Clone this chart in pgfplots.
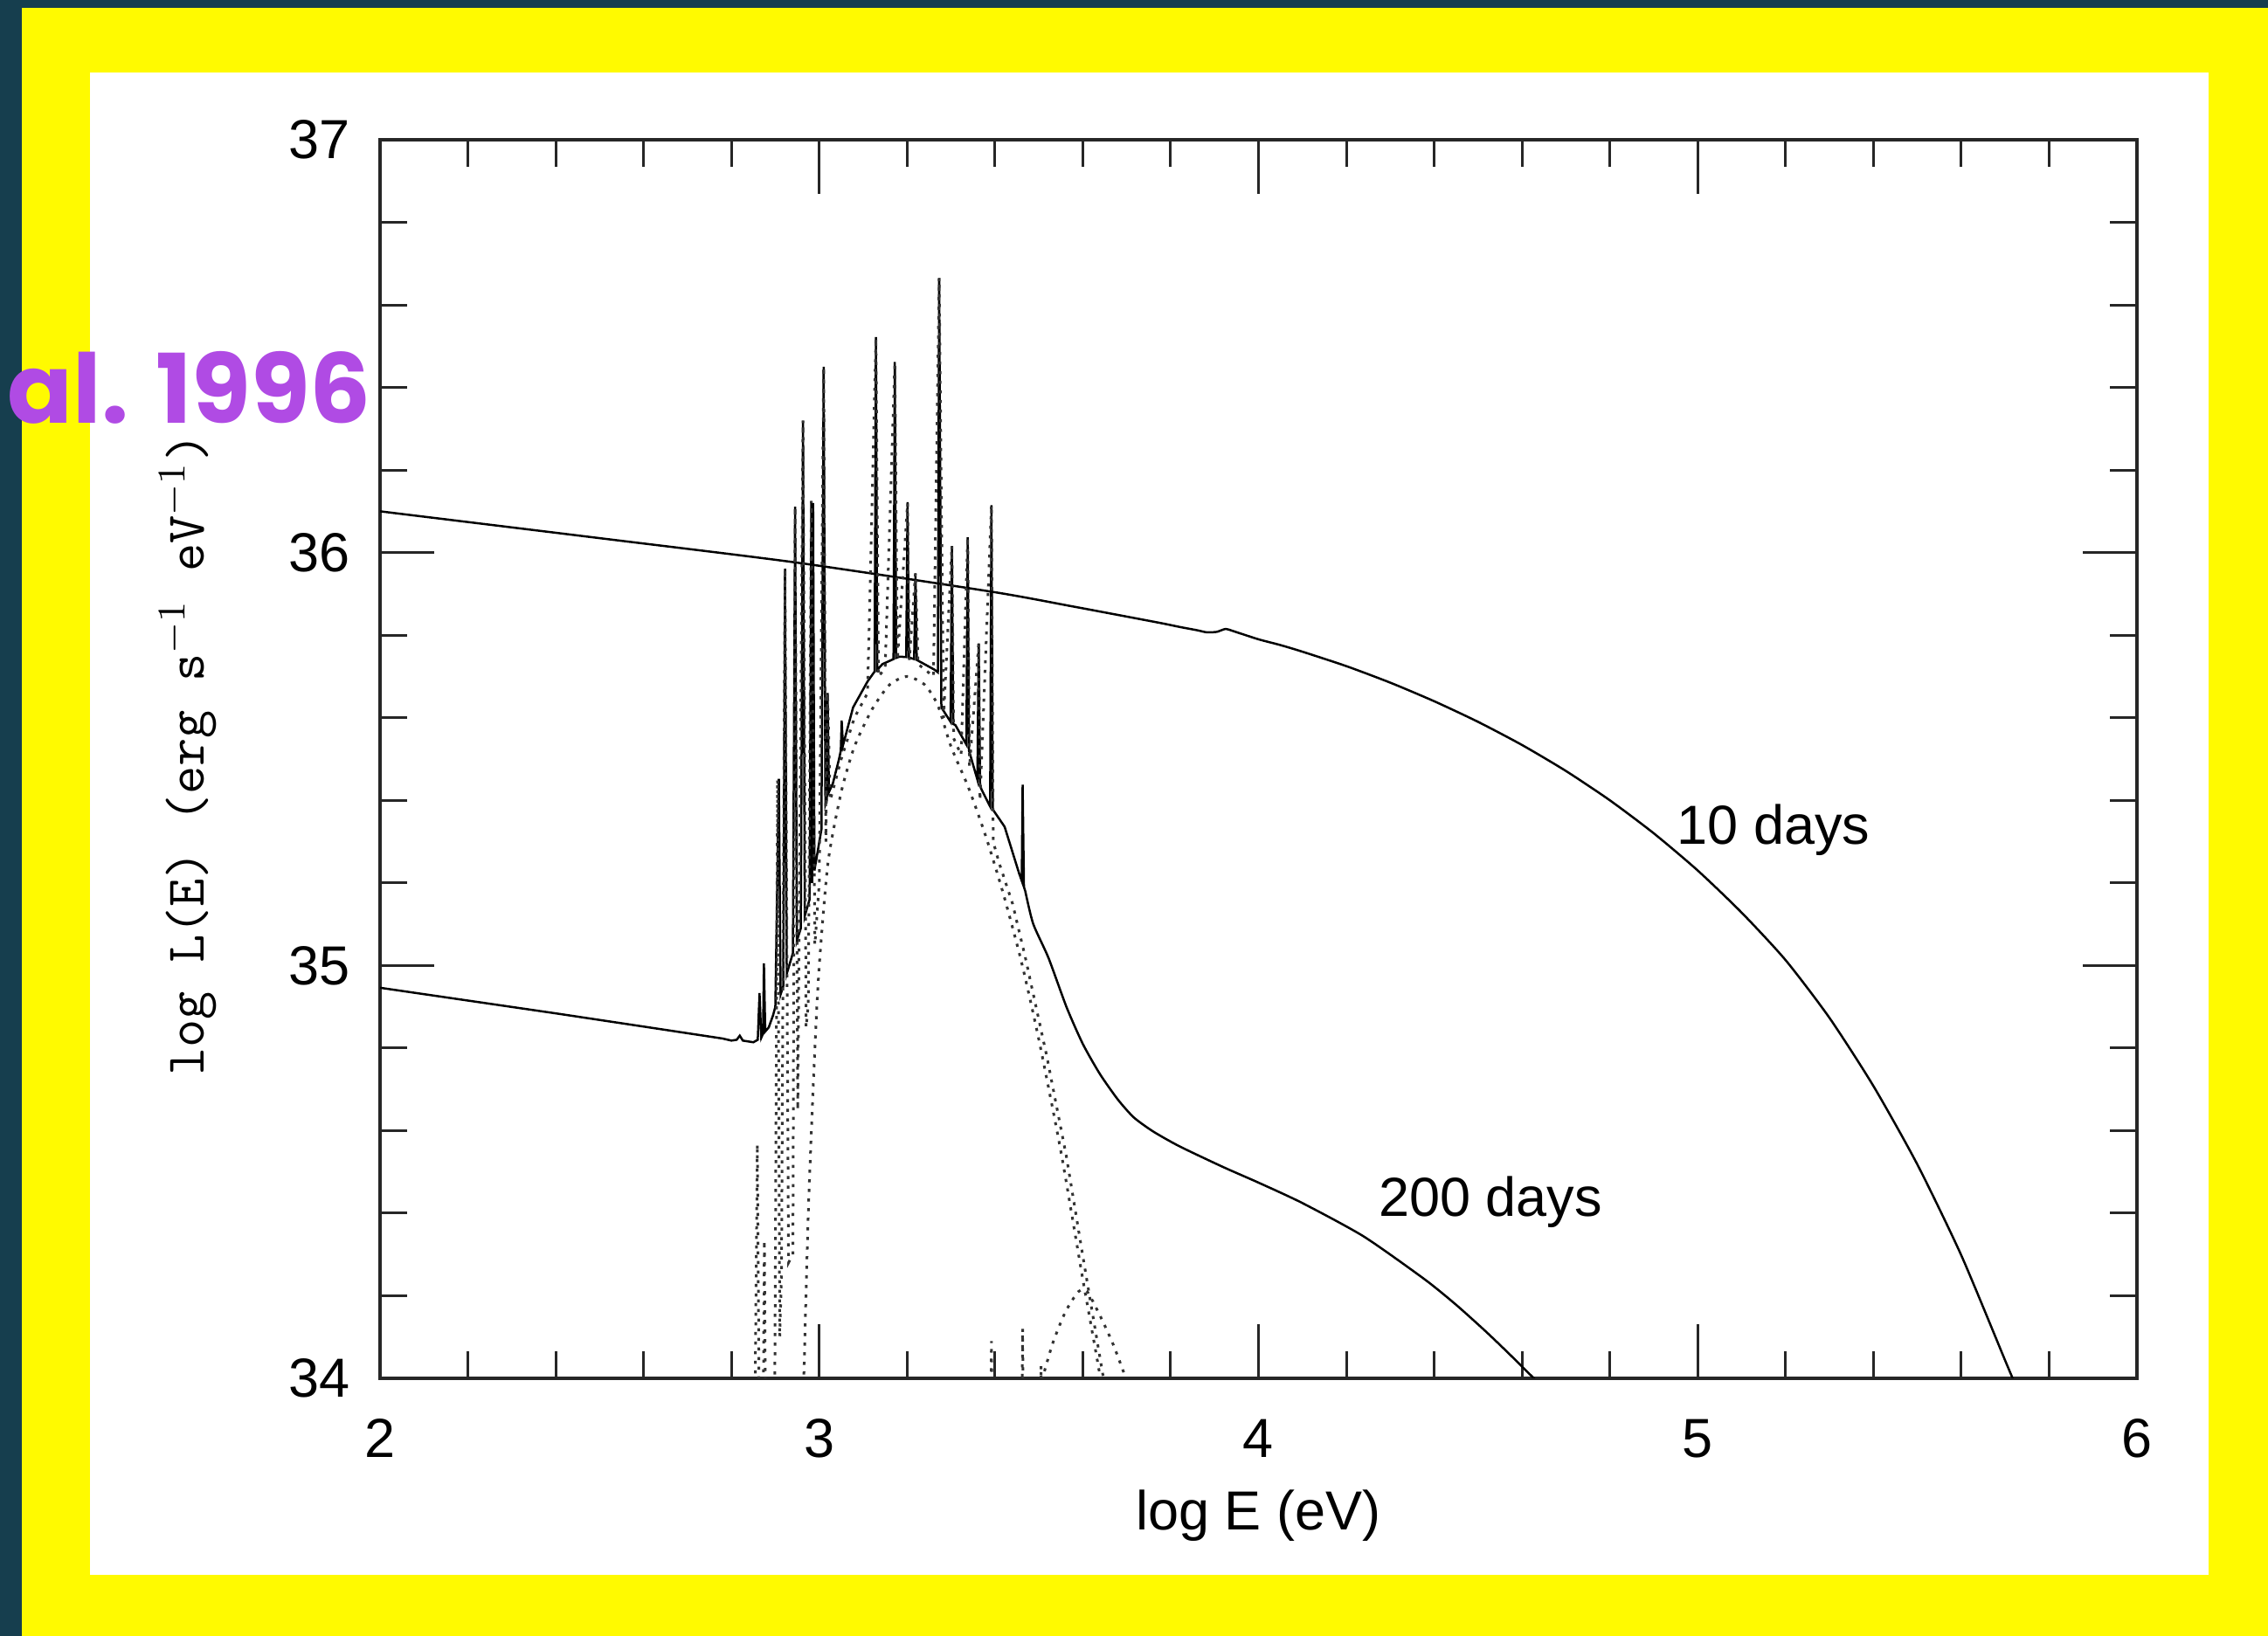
\documentclass[border=0pt]{standalone}
\usepackage{pgfplots}
\pgfplotsset{compat=1.18}
\usepackage{fontspec}
\setmainfont{Liberation Sans}
\newfontfamily\popfont{Poppins}
\definecolor{bgdark}{RGB}{22,62,78}
\definecolor{frameyellow}{RGB}{255,250,0}
\definecolor{labelpurple}{RGB}{176,75,228}
\begin{document}
\begin{tikzpicture}
\fill[bgdark] (0,0) rectangle (519.2pt,374.6pt);
\fill[frameyellow] (5pt,0) rectangle (519.2pt,372.8pt);
\fill[white] (20.6pt,14pt) rectangle (505.6pt,358pt);
\begin{axis}[
  at={(87pt,59pt)}, anchor=south west,
  width=402.2pt, height=283.6pt, scale only axis,
  xmin=2,xmax=6,ymin=34,ymax=37,
  xtick={2,3,4,5,6}, ytick={34,35,36,37},
  minor x tick num=4, minor y tick num=4,
  major tick length=12.4pt, minor tick length=6.2pt,
  tick style={black!85,line width=0.6pt},
  axis line style={line width=0.7pt, black!85},
  tick label style={font=\fontsize{12.6}{15}\selectfont},
  /pgf/number format/assume math mode=true,
  xticklabel style={anchor=base, inner sep=0pt, yshift=-18.2pt},
  yticklabel style={anchor=east, inner sep=0pt, xshift=-6.6pt},
  xlabel={log E (eV)},
  ylabel={\ttfamily log L(E) (erg s$^{-1}$ eV$^{-1}$)},
  every axis x label/.style={at={(axis description cs:0.5,-0.1227)},anchor=base,font=\fontsize{12.6}{15}\selectfont},
  every axis y label/.style={at={(axis description cs:-0.1004,0.5035)},anchor=base,rotate=90,font=\fontsize{12.5}{15}\selectfont},
]
% 10 days
\addplot[black, line width=0.5pt, smooth, tension=0.4] coordinates {
(2.000,36.100) (2.500,36.035) (2.947,35.976) (3.394,35.905) (3.575,35.870)
(3.700,35.845) (3.784,35.828) (3.820,35.820) (3.860,35.812) (3.882,35.807)
(3.905,35.808) (3.925,35.815) (3.945,35.809) (4.000,35.790) (4.050,35.776)
(4.100,35.760) (4.200,35.725) (4.300,35.685) (4.400,35.640) (4.500,35.590)
(4.600,35.534) (4.700,35.471) (4.800,35.400) (4.900,35.320) (5.000,35.230)
(5.100,35.128) (5.200,35.013) (5.300,34.873) (5.400,34.708) (5.500,34.518)
(5.600,34.298) (5.700,34.043) (5.717,34.000) (5.725,33.980)
};
% 200 days: low-energy continuum and lines
\addplot[black, line width=0.5pt] coordinates {
(2.000,34.946) (2.200,34.915) (2.400,34.884) (2.600,34.852) (2.780,34.823)
(2.800,34.818) (2.812,34.820) (2.819,34.830) (2.826,34.818) (2.850,34.814)
(2.860,34.820) (2.864,34.933) (2.868,34.825) (2.872,34.835) (2.874,35.005)
(2.877,34.840) (2.885,34.850) (2.895,34.880) (2.900,34.900) (2.908,35.452)
(2.912,34.930) (2.918,34.950) (2.922,35.961) (2.926,34.980) (2.940,35.030)
(2.945,36.111) (2.949,35.060) (2.958,35.090) (2.963,36.319) (2.967,35.120)
(2.978,35.160) (2.982,36.125) (2.984,35.200) (2.986,36.120) (2.989,35.230)
(3.005,35.330) (3.010,36.450) (3.014,35.390) (3.017,35.400) (3.019,35.660)
(3.022,35.420) (3.031,35.441) (3.045,35.500) (3.049,35.520) (3.051,35.593)
(3.054,35.533) (3.077,35.625) (3.110,35.688) (3.126,35.712) (3.129,36.522)
(3.132,35.716) (3.144,35.730) (3.169,35.742) (3.172,36.462) (3.175,35.745)
(3.183,35.748) (3.198,35.747) (3.201,36.122) (3.204,35.746) (3.216,35.742)
(3.219,35.950) (3.222,35.740) (3.263,35.716) (3.270,35.710) (3.273,36.665)
(3.278,35.625) (3.299,35.590) (3.302,36.016) (3.305,35.585) (3.310,35.582)
(3.335,35.535) (3.338,36.037) (3.341,35.520) (3.360,35.450) (3.363,35.780)
(3.366,35.440) (3.369,35.427) (3.389,35.385) (3.392,36.115) (3.395,35.378)
(3.422,35.336) (3.455,35.223) (3.461,35.205) (3.463,35.438) (3.466,35.190)
(3.469,35.180)
};
% 200 days: high-energy continuum
\addplot[black, line width=0.5pt, smooth, tension=0.4] coordinates {
(3.469,35.180) (3.487,35.101) (3.522,35.018) (3.563,34.899) (3.600,34.810)
(3.639,34.737) (3.680,34.675) (3.716,34.632) (3.760,34.598) (3.820,34.562)
(3.919,34.512) (4.000,34.474) (4.099,34.425) (4.239,34.344) (4.378,34.240)
(4.450,34.178) (4.518,34.113) (4.570,34.060) (4.627,34.000) (4.640,33.985)
};
% dotted component with lines
\addplot[black!80, line width=0.6pt, dash pattern=on 0.7pt off 1.5pt] coordinates {
(2.898,33.800) (2.905,35.450) (2.910,34.100) (2.914,34.250) (2.922,35.960)
(2.930,34.280) (2.940,34.300) (2.945,36.110) (2.951,34.650) (2.963,36.320)
(2.970,34.850) (2.975,34.905) (2.982,36.125) (2.990,35.050) (3.000,35.200)
(3.010,36.450) (3.015,35.300) (3.019,35.660) (3.025,35.400) (3.050,35.500)
(3.080,35.600) (3.110,35.660) (3.129,36.520) (3.135,35.700) (3.150,35.720)
(3.172,36.460) (3.178,35.740) (3.201,36.120) (3.205,35.740) (3.219,35.950)
(3.225,35.730) (3.260,35.700) (3.273,36.665) (3.283,35.600) (3.302,36.016)
(3.306,35.550) (3.323,35.510) (3.338,36.037) (3.342,35.480) (3.363,35.780)
(3.366,35.400) (3.392,36.115) (3.396,35.300) (3.409,35.250) (3.440,35.150)
(3.469,35.020) (3.518,34.780) (3.563,34.535) (3.601,34.290) (3.647,34.000)
(3.660,33.900)
};
% dotted lower hump
\addplot[black!80, line width=0.6pt, dash pattern=on 0.7pt off 1.5pt, smooth, tension=0.4] coordinates {
(2.960,33.800) (2.975,34.400) (2.990,34.800) (3.000,35.000) (3.020,35.250)
(3.050,35.420) (3.080,35.530) (3.120,35.620) (3.160,35.680) (3.200,35.700)
(3.240,35.680) (3.270,35.630) (3.300,35.530) (3.340,35.430) (3.380,35.310)
(3.420,35.170) (3.460,35.010) (3.500,34.820) (3.550,34.550) (3.600,34.240)
(3.640,34.000) (3.650,33.900)
};
% dotted weak lines near the bottom
\addplot[black!80, line width=0.6pt, dash pattern=on 0.7pt off 1.5pt] coordinates {
(2.850,33.500) (2.859,34.567) (2.866,33.500) (2.870,33.500) (2.875,34.334)
(2.880,33.500) (3.388,33.500) (3.392,34.090) (3.396,33.500) (3.459,33.500)
(3.463,34.120) (3.467,33.500) (3.501,33.500) (3.505,34.030) (3.509,33.500)
};
% dotted small hump
\addplot[black!80, line width=0.6pt, dash pattern=on 0.7pt off 1.5pt, smooth, tension=0.4] coordinates {
(3.495,33.950) (3.530,34.080) (3.560,34.160) (3.590,34.210) (3.610,34.210)
(3.640,34.150) (3.670,34.080) (3.705,33.980)
};
\node[anchor=base, font=\fontsize{12.6}{15}\selectfont, inner sep=0pt] at (axis cs:5.173,35.293) {10 days};
\node[anchor=base, font=\fontsize{12.6}{15}\selectfont, inner sep=0pt] at (axis cs:4.528,34.392) {200 days};
\end{axis}
\node[anchor=base west, inner sep=0pt, text=labelpurple, font=\popfont\bfseries\fontsize{22}{26}\selectfont] at (1.6pt,277.6pt) {al. 1996};
\end{tikzpicture}
\end{document}
